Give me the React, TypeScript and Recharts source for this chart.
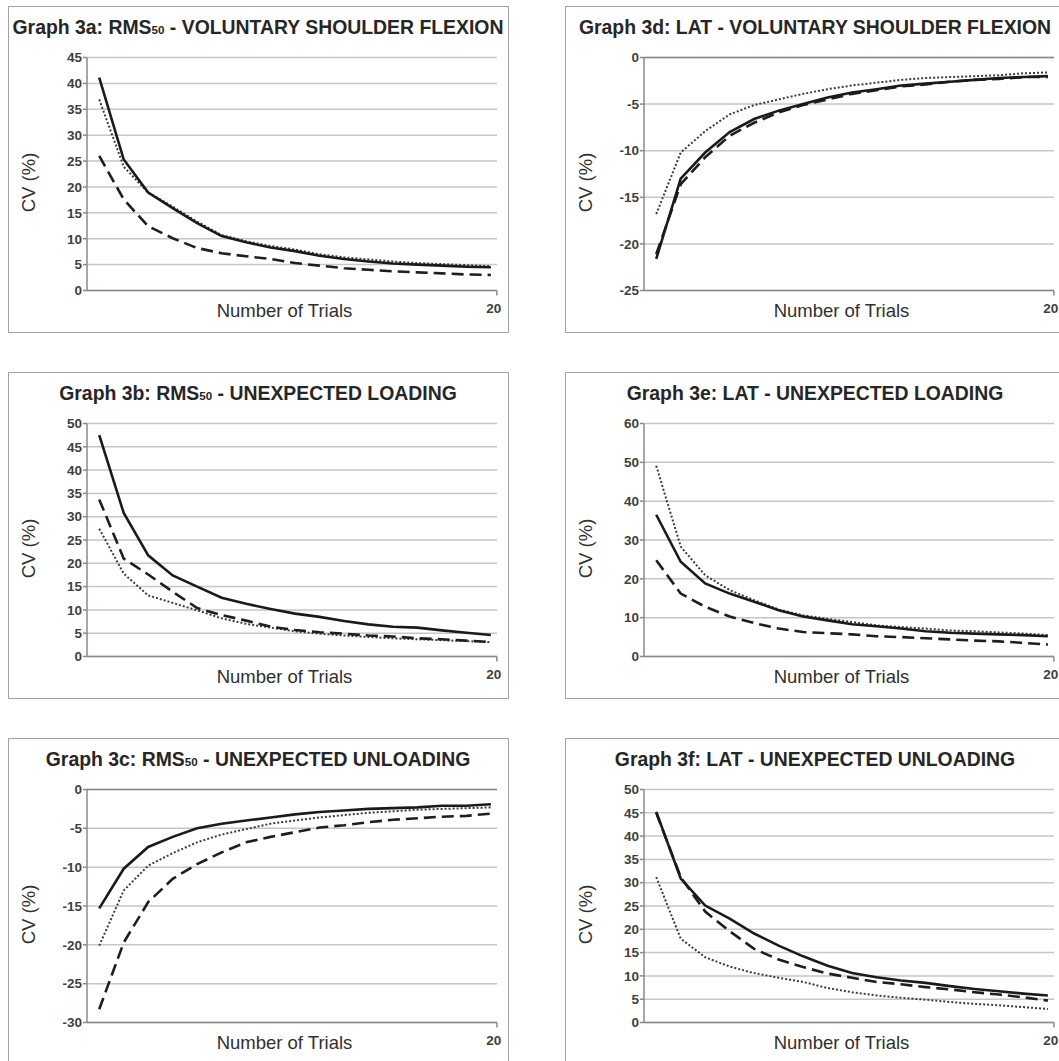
import { LineChart, Line, XAxis, YAxis, CartesianGrid, ReferenceLine } from "recharts";

// number of trials (x axis), only "20" is labelled
const trials = [4, 5, 6, 7, 8, 9, 10, 11, 12, 13, 14, 15, 16, 17, 18, 19, 20];
const xTicks = [20];

// Graph 3a: RMS50 - voluntary shoulder flexion
const aTicks = [0, 5, 10, 15, 20, 25, 30, 35, 40, 45];
const aSolid = [41.1, 25.3, 18.9, 15.9, 13.0, 10.5, 9.3, 8.3, 7.6, 6.7, 6.1, 5.6, 5.2, 5.0, 4.8, 4.6, 4.5];
const aDashed = [26.0, 17.6, 12.4, 10.1, 8.2, 7.2, 6.6, 6.1, 5.3, 4.8, 4.3, 4.0, 3.7, 3.5, 3.3, 3.1, 3.0];
const aDotted = [36.9, 23.9, 18.9, 16.2, 13.3, 10.7, 9.5, 8.6, 7.9, 7.0, 6.4, 6.0, 5.6, 5.3, 5.1, 4.9, 4.7];

// Graph 3b: RMS50 - unexpected loading
const bTicks = [0, 5, 10, 15, 20, 25, 30, 35, 40, 45, 50];
const bSolid = [47.5, 30.8, 21.7, 17.4, 15.0, 12.6, 11.3, 10.2, 9.2, 8.5, 7.6, 6.9, 6.4, 6.2, 5.6, 5.1, 4.6];
const bDashed = [33.7, 21.0, 17.6, 13.9, 10.4, 8.9, 7.7, 6.4, 5.7, 5.2, 4.9, 4.5, 4.3, 3.9, 3.7, 3.4, 3.1];
const bDotted = [27.4, 17.8, 13.1, 11.5, 9.9, 8.2, 7.0, 6.2, 5.4, 4.9, 4.5, 4.2, 3.9, 3.7, 3.5, 3.3, 3.1];

// Graph 3c: RMS50 - unexpected unloading
const cTicks = [-30, -25, -20, -15, -10, -5, 0];
const cSolid = [-15.3, -10.2, -7.4, -6.1, -5.0, -4.4, -4.0, -3.6, -3.2, -2.9, -2.7, -2.5, -2.4, -2.3, -2.1, -2.1, -1.9];
const cDashed = [-28.3, -19.7, -14.5, -11.5, -9.6, -8.1, -6.8, -6.1, -5.5, -4.9, -4.6, -4.2, -3.9, -3.7, -3.5, -3.4, -3.1];
const cDotted = [-20.1, -13.0, -9.8, -8.2, -6.8, -5.8, -5.1, -4.4, -4.0, -3.6, -3.3, -3.0, -2.8, -2.6, -2.5, -2.4, -2.3];

// Graph 3d: LAT - voluntary shoulder flexion
const dTicks = [-25, -20, -15, -10, -5, 0];
const dSolid = [-21.6, -13.0, -10.2, -8.0, -6.6, -5.7, -5.0, -4.3, -3.75, -3.4, -3.0, -2.8, -2.6, -2.4, -2.2, -2.1, -2.0];
const dDashed = [-21.1, -13.6, -10.7, -8.4, -7.0, -5.9, -5.1, -4.5, -3.9, -3.5, -3.1, -2.9, -2.6, -2.4, -2.3, -2.1, -2.1];
const dDotted = [-16.8, -10.2, -7.9, -6.1, -5.1, -4.5, -3.9, -3.4, -3.0, -2.7, -2.4, -2.2, -2.1, -2.0, -1.9, -1.7, -1.6];

// Graph 3e: LAT - unexpected loading
const eTicks = [0, 10, 20, 30, 40, 50, 60];
const eSolid = [36.5, 24.4, 18.8, 16.2, 14.1, 11.9, 10.3, 9.3, 8.3, 7.8, 7.2, 6.5, 6.1, 5.9, 5.7, 5.5, 5.2];
const eDashed = [24.8, 16.2, 12.8, 10.3, 8.6, 7.2, 6.3, 6.0, 5.7, 5.2, 5.0, 4.7, 4.4, 4.1, 3.9, 3.5, 3.1];
const eDotted = [49.1, 28.3, 20.9, 17.1, 14.5, 12.1, 10.6, 9.7, 8.9, 8.0, 7.6, 7.2, 6.7, 6.5, 6.2, 5.9, 5.5];

// Graph 3f: LAT - unexpected unloading
const fTicks = [0, 5, 10, 15, 20, 25, 30, 35, 40, 45, 50];
const fSolid = [45.2, 30.9, 25.1, 22.3, 19.1, 16.5, 14.2, 12.2, 10.6, 9.7, 9.0, 8.5, 7.8, 7.2, 6.7, 6.2, 5.8];
const fDashed = [45.0, 31.2, 23.8, 19.6, 15.8, 13.5, 11.9, 10.5, 9.6, 8.7, 8.2, 7.6, 7.1, 6.5, 6.0, 5.4, 4.7];
const fDotted = [31.2, 18.0, 14.0, 12.0, 10.6, 9.6, 8.7, 7.4, 6.5, 5.8, 5.3, 4.9, 4.4, 4.0, 3.7, 3.3, 2.9];

const FONT = "Arial, 'Liberation Sans', Helvetica, sans-serif";
const AXIS = "#8a8a8a";
const W = 501;
const H = 327;

const XTick = (props: any) => {
  const { x, y, payload } = props;
  return (
    <g>
      <line x1={x + 6} y1={y - 13} x2={x + 6} y2={y - 8} stroke={AXIS} strokeWidth={1.5} />
      <text x={x + 3} y={y} dy="0.71em" textAnchor="middle" fontFamily={FONT} fontSize={13.5} fontWeight="bold" fill="#404040">
        {payload.value}
      </text>
    </g>
  );
};

const XTitle = (props: any) => {
  const vb = props.viewBox;
  return (
    <text x={vb.x + vb.width / 2 - 7.5} y={vb.y + 26.6} textAnchor="middle" fontFamily={FONT} fontSize={18.5} fill="#303030">
      Number of Trials
    </text>
  );
};

const YTitle = (props: any) => {
  const vb = props.viewBox;
  const cx = 20;
  const cy = vb.y + vb.height / 2 + 8.5;
  return (
    <text x={cx} y={cy} dy="0.36em" transform={`rotate(-90 ${cx} ${cy})`} textAnchor="middle" fontFamily={FONT} fontSize={18.5} fill="#303030">
      CV (%)
    </text>
  );
};

interface PanelProps {
  left: number;
  top: number;
  prefix: string;
  sub?: string;
  suffix: string;
  yTicks: number[];
  solid: number[];
  dashed: number[];
  dotted: number[];
}

const Panel = ({ left, top, prefix, sub, suffix, yTicks, solid, dashed, dotted }: PanelProps) => {
  const data = trials.map((t, i) => ({ trial: t, solid: solid[i], dashed: dashed[i], dotted: dotted[i] }));
  const yMin = yTicks[0];
  const yMax = yTicks[yTicks.length - 1];

  return (
    <div
      style={{
        position: "absolute",
        left,
        top,
        width: W,
        height: H,
        boxSizing: "border-box",
        border: "1.5px solid #a3a3a3",
        background: "#fff",
      }}
    >
      <div style={{ position: "absolute", left: -1.5, top: -1.5, width: W, height: H }}>
        <div
          style={{
            position: "absolute",
            left: 0,
            top: 10,
            width: W,
            height: 22,
            lineHeight: "22px",
            textAlign: "center",
            fontFamily: FONT,
            fontWeight: "bold",
            fontSize: 19.4,
            color: "#262626",
            whiteSpace: "nowrap",
          }}
        >
          {prefix}
          {sub && <span style={{ fontSize: "0.6em" }}>{sub}</span>}
          {suffix}
        </div>
        <LineChart width={W} height={H} data={data} margin={{ top: 51.5, right: 12, bottom: 0, left: 0 }}>
          <CartesianGrid vertical={false} stroke="#c6c6c6" strokeWidth={1.5} />
          <XAxis
            dataKey="trial"
            type="number"
            domain={[3.5, 20.25]}
            ticks={xTicks}
            height={42.5}
            tickSize={5}
            tickMargin={8}
            tickLine={false}
            tick={<XTick />}
            axisLine={{ stroke: AXIS, strokeWidth: 1.5 }}
            label={<XTitle />}
          />
          <YAxis
            domain={[yMin, yMax]}
            ticks={yTicks}
            interval={0}
            width={79}
            tickSize={4}
            tickMargin={1}
            tickLine={{ stroke: AXIS, strokeWidth: 1.5 }}
            axisLine={{ stroke: AXIS, strokeWidth: 1.5 }}
            tick={{ fontFamily: FONT, fontSize: 13.5, fontWeight: "bold", fill: "#404040" }}
            label={<YTitle />}
          />
          {yMin < 0 && <ReferenceLine y={0} stroke={AXIS} strokeWidth={1.5} />}
          <Line type="linear" dataKey="dotted" stroke="#3c3c3c" strokeWidth={2} strokeDasharray="2 2" dot={false} isAnimationActive={false} />
          <Line type="linear" dataKey="dashed" stroke="#1e1e1e" strokeWidth={2.6} strokeDasharray="12 6" dot={false} isAnimationActive={false} />
          <Line type="linear" dataKey="solid" stroke="#1a1a1a" strokeWidth={2.6} dot={false} isAnimationActive={false} />
        </LineChart>
      </div>
    </div>
  );
};

export default function App() {
  return (
    <div style={{ position: "absolute", left: 0, top: 0, width: 1059, height: 1061, overflow: "hidden", background: "#fff" }}>
      <Panel left={8} top={6} prefix="Graph 3a: RMS" sub="50" suffix=" - VOLUNTARY SHOULDER FLEXION" yTicks={aTicks} solid={aSolid} dashed={aDashed} dotted={aDotted} />
      <Panel left={8} top={372} prefix="Graph 3b: RMS" sub="50" suffix=" - UNEXPECTED LOADING" yTicks={bTicks} solid={bSolid} dashed={bDashed} dotted={bDotted} />
      <Panel left={8} top={738} prefix="Graph 3c: RMS" sub="50" suffix=" - UNEXPECTED UNLOADING" yTicks={cTicks} solid={cSolid} dashed={cDashed} dotted={cDotted} />
      <Panel left={565} top={6} prefix="Graph 3d: LAT - VOLUNTARY SHOULDER FLEXION" suffix="" yTicks={dTicks} solid={dSolid} dashed={dDashed} dotted={dDotted} />
      <Panel left={565} top={372} prefix="Graph 3e: LAT - UNEXPECTED LOADING" suffix="" yTicks={eTicks} solid={eSolid} dashed={eDashed} dotted={eDotted} />
      <Panel left={565} top={738} prefix="Graph 3f: LAT - UNEXPECTED UNLOADING" suffix="" yTicks={fTicks} solid={fSolid} dashed={fDashed} dotted={fDotted} />
    </div>
  );
}
